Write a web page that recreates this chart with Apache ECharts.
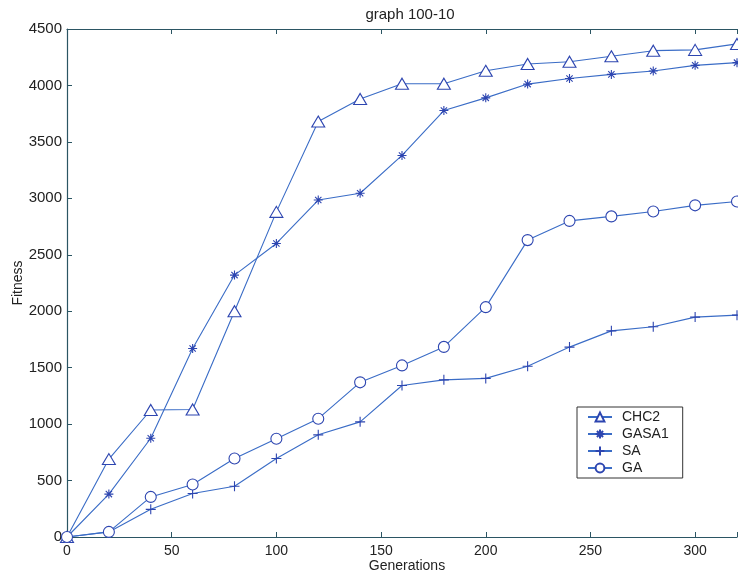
<!DOCTYPE html>
<html><head><meta charset="utf-8">
<script src="https://cdn.jsdelivr.net/npm/echarts@6/dist/echarts.min.js"></script>
<style>html,body{margin:0;padding:0;background:#fff}#c{width:738px;height:577px}</style>
</head><body><div id="c"></div>
<script>
var generations = [0,20,40,60,80,100,120,140,160,180,200,220,240,260,280,300,320];
var chc2  = [0,690,1125,1130,2000,2880,3680,3880,4015,4015,4130,4190,4210,4258,4308,4315,4368];
var gasa1 = [0,380,875,1670,2320,2600,2985,3045,3380,3778,3890,4012,4062,4098,4128,4178,4202];
var sa    = [0,45,245,385,450,695,905,1020,1342,1392,1405,1512,1682,1826,1862,1948,1965];
var ga    = [0,45,355,465,695,870,1048,1370,1520,1684,2036,2630,2800,2840,2884,2938,2972];
var xTicks = [0,50,100,150,200,250,300];
var yTicks = [0,500,1000,1500,2000,2500,3000,3500,4000,4500];

var lineColor = '#3a6cc6';
var markColor = '#2d45b0';
var axisColor = '#2b5563';
var font = 'Liberation Sans, Arial, sans-serif';

function pairs(v){ return generations.map(function(g,i){ return [g, v[i]]; }); }
var plusPath = 'path://M0,-1L0,1M-1,0L1,0';
var starPath = 'path://M0,-1L0,1M-1,0L1,0M-0.7,-0.7L0.7,0.7M-0.7,0.7L0.7,-0.7';

function mk(name, data, symbol, size){
  return {
    name: name, type: 'line', data: pairs(data), symbol: symbol, symbolSize: size,
    showAllSymbol: true, silent: true, animation: false,
    lineStyle: {color: lineColor, width: 1.1},
    itemStyle: {color: '#fff', borderColor: markColor, borderWidth: 1.1, opacity: 1},
    emphasis: {disabled: true}
  };
}

var chart = echarts.init(document.getElementById('c'), null, {renderer: 'canvas'});
chart.setOption({
  backgroundColor: '#fff',
  animation: false,
  title: {text: 'graph 100-10', left: 405, top: 2, textAlign: 'center',
    textStyle: {fontFamily: font, fontSize: 15, fontWeight: 'normal', color: '#222'}},
  grid: {left: 67, top: 29, right: 1, bottom: 40, containLabel: false, outerBoundsMode: 'none'},
  legend: {
    orient: 'vertical', left: 577, top: 407,
    data: ['CHC2','GASA1','SA','GA'],
    itemWidth: 24, itemHeight: 11, itemGap: 3,
    padding: [3, 14, 3, 10],
    borderColor: '#333', borderWidth: 1, backgroundColor: '#fff',
    textStyle: {fontFamily: font, fontSize: 14, color: '#222', padding: [0,0,0,5]},
    selectedMode: false
  },
  xAxis: [{
    type: 'value', min: 0, max: 320, interval: 50, position: 'bottom',
    name: 'Generations', nameLocation: 'middle', nameGap: 22, nameMoveOverlap: false,
    nameTextStyle: {fontFamily: font, fontSize: 14, color: '#222', padding: [0,0,0,10]},
    axisLine: {show: true, onZero: false, lineStyle: {color: axisColor, width: 1.2}},
    axisTick: {show: true, inside: true, length: 5, lineStyle: {color: axisColor}},
    axisLabel: {fontFamily: font, fontSize: 14, color: '#222', margin: 7,
      formatter: function(v){ return xTicks.indexOf(v) >= 0 ? String(v) : ''; }},
    splitLine: {show: false}
  },{
    type: 'value', min: 0, max: 320, interval: 50, position: 'top',
    axisLine: {show: true, onZero: false, lineStyle: {color: axisColor, width: 1.2}},
    axisTick: {show: true, inside: true, length: 5, lineStyle: {color: axisColor}},
    axisLabel: {show: false}, splitLine: {show: false}
  }],
  yAxis: [{
    type: 'value', min: 0, max: 4500, interval: 500,
    name: 'Fitness', nameLocation: 'middle', nameGap: 42, nameRotate: 90, nameMoveOverlap: false,
    nameTextStyle: {fontFamily: font, fontSize: 14, color: '#222'},
    axisLine: {show: true, onZero: false, lineStyle: {color: axisColor, width: 1.2}},
    axisTick: {show: true, inside: true, length: 5, lineStyle: {color: axisColor}},
    axisLabel: {fontFamily: font, fontSize: 15, color: '#222', margin: 5,
      formatter: function(v){ return yTicks.indexOf(v) >= 0 ? String(v) : ''; }},
    splitLine: {show: false}
  }],
  series: [
    mk('CHC2', chc2, 'triangle', [13, 11]),
    mk('GASA1', gasa1, starPath, 9),
    mk('SA', sa, plusPath, 10),
    mk('GA', ga, 'circle', 11)
  ]
});
</script></body></html>
